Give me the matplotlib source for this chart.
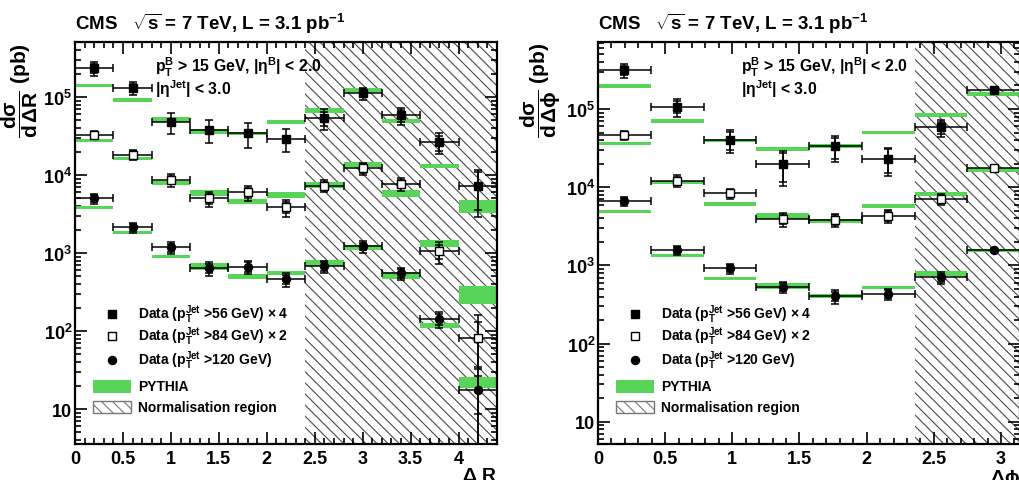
import numpy as np
import matplotlib
matplotlib.use('Agg')
from matplotlib import pyplot as plt
from matplotlib.ticker import MultipleLocator, LogLocator, FuncFormatter, NullFormatter
from matplotlib.patches import Rectangle

plt.rcParams['font.family'] = ['Liberation Sans', 'DejaVu Sans']
plt.rcParams['font.weight'] = 'bold'
plt.rcParams['axes.labelweight'] = 'bold'
plt.rcParams['mathtext.fontset'] = 'custom'
plt.rcParams['mathtext.rm'] = 'Liberation Sans:bold'
plt.rcParams['mathtext.it'] = 'Liberation Sans:bold'
plt.rcParams['mathtext.bf'] = 'Liberation Sans:bold'
plt.rcParams['mathtext.sf'] = 'Liberation Sans:bold'
plt.rcParams['mathtext.default'] = 'rm'
plt.rcParams['hatch.linewidth'] = 0.8

GREEN = '#58d558'
HATCH = '#4a4a4a'

# ---- Delta R ----
dR_edges = [0, 0.4, 0.8, 1.2, 1.6, 2.0, 2.4, 2.8, 3.2, 3.6, 4.0, 4.4]
dR_norm = (2.4, 4.4)
# data (pT>56)x4, (pT>84)x2, (pT>120)
dR_d1 = [2.35e5, 1.30e5, 4.73e4, 3.81e4, 3.43e4, 2.90e4, 5.38e4, 1.12e5, 5.80e4, 2.62e4, 7.2e3]
dR_d2 = [3.26e4, 1.82e4, 8.7e3, 5.0e3, 5.98e3, 3.86e3, 7.3e3, 1.22e4, 7.67e3, 1.05e3, 81]
dR_d3 = [5.02e3, 2.13e3, 1.18e3, 637, 667, 464, 675, 1.22e3, 550, 142, 17.5]
# relative total / stat errors
dR_tot1 = [0.20, 0.18, 0.30, 0.32, 0.35, 0.33, 0.30, 0.18, 0.25, 0.30, 0.60]
dR_tot2 = [0.12, 0.14, 0.20, 0.22, 0.22, 0.24, 0.18, 0.18, 0.18, 0.31, 0.99]
dR_tot3 = [0.15, 0.15, 0.17, 0.20, 0.20, 0.20, 0.18, 0.17, 0.17, 0.23, 0.99]
dR_st1 = [0.14, 0.12, 0.08, 0.09, 0.09, 0.09, 0.20, 0.12, 0.18, 0.22, 0.50]
dR_st2 = [0.08, 0.10, 0.13, 0.15, 0.14, 0.16, 0.12, 0.12, 0.12, 0.20, 0.60]
dR_st3 = [0.10, 0.10, 0.12, 0.14, 0.14, 0.13, 0.12, 0.11, 0.12, 0.15, 0.50]
# PYTHIA and band half width (relative)
dR_p1 = [1.40e5, 9.2e4, 5.2e4, 3.66e4, 3.38e4, 4.73e4, 6.8e4, 1.24e5, 4.92e4, 1.31e4, 4.0e3]
dR_p2 = [2.76e4, 1.62e4, 7.9e3, 5.9e3, 4.55e3, 5.58e3, 7.45e3, 1.38e4, 5.8e3, 1.32e3, 300]
dR_p3 = [3.81e3, 1.82e3, 897, 667, 502, 549, 751, 1.18e3, 512, 117, 22]
dR_pw1 = [0.05, 0.05, 0.07, 0.07, 0.05, 0.06, 0.07, 0.06, 0.06, 0.07, 0.19]
dR_pw2 = [0.05, 0.05, 0.06, 0.08, 0.08, 0.08, 0.08, 0.07, 0.10, 0.10, 0.26]
dR_pw3 = [0.04, 0.05, 0.05, 0.10, 0.07, 0.06, 0.08, 0.07, 0.10, 0.07, 0.16]

# ---- Delta phi ----
dphi_edges = [i * np.pi / 8 for i in range(9)]
dphi_norm = (6 * np.pi / 8, np.pi)
dphi_d1 = [3.14e5, 1.07e5, 4.03e4, 1.97e4, 3.32e4, 2.30e4, 5.82e4, 1.76e5]
dphi_d2 = [4.64e4, 1.21e4, 8.34e3, 3.91e3, 3.83e3, 4.30e3, 7.05e3, 1.74e4]
dphi_d3 = [6.7e3, 1.57e3, 916, 532, 402, 430, 703, 1.58e3]
dphi_tot1 = [0.20, 0.25, 0.33, 0.47, 0.36, 0.40, 0.25, 0.07]
dphi_tot2 = [0.13, 0.18, 0.15, 0.20, 0.20, 0.20, 0.17, 0.07]
dphi_tot3 = [0.13, 0.13, 0.15, 0.17, 0.20, 0.17, 0.17, 0.05]
dphi_st1 = [0.12, 0.18, 0.25, 0.40, 0.30, 0.33, 0.18, 0.04]
dphi_st2 = [0.09, 0.12, 0.10, 0.14, 0.14, 0.14, 0.12, 0.04]
dphi_st3 = [0.09, 0.09, 0.10, 0.12, 0.14, 0.12, 0.12, 0.03]
dphi_p1 = [1.98e5, 7.06e4, 3.96e4, 3.07e4, 3.39e4, 5.02e4, 8.36e4, 1.56e5]
dphi_p2 = [3.63e4, 1.15e4, 6.08e3, 4.31e3, 3.72e3, 5.78e3, 8.17e3, 1.66e4]
dphi_p3 = [4.85e3, 1.33e3, 682, 549, 408, 524, 790, 1.54e3]
dphi_pw1 = [0.05, 0.05, 0.05, 0.05, 0.05, 0.05, 0.05, 0.05]
dphi_pw2 = [0.05, 0.05, 0.05, 0.08, 0.06, 0.05, 0.06, 0.05]
dphi_pw3 = [0.04, 0.04, 0.05, 0.08, 0.05, 0.05, 0.08, 0.05]

legend_labels = [r'Data ($p_{T}^{Jet}$ >56 GeV)$\,\times$4',
                 r'Data ($p_{T}^{Jet}$ >84 GeV)$\,\times$2',
                 r'Data ($p_{T}^{Jet}$ >120 GeV)',
                 'PYTHIA', 'Normalisation region']
cut_text1 = r'$p_{T}^{B}$ > 15 GeV, $|\eta^{B}|$ < 2.0'
cut_text2 = r'$|\eta^{Jet}|$ < 3.0'
title = r'CMS   $\sqrt{s}$ = 7 TeV, L = 3.1 pb$^{-1}$'

marker_styles = [dict(marker='s', ms=5.8, mfc='black', mec='black'),
                 dict(marker='s', ms=5.8, mfc='white', mec='black', mew=1.0),
                 dict(marker='o', ms=5.8, mfc='black', mec='black')]


def ylog_fmt(v, pos):
    n = int(round(np.log10(v)))
    if n == 1:
        return '10'
    return r'$10^{%d}$' % n


def draw_panel(ax, edges, norm, datas, tots, stats, pys, pws, ylim, xlabel, ylabel, tx):
    edges = np.array(edges)
    centers = 0.5 * (edges[1:] + edges[:-1])
    halfw = 0.5 * (edges[1:] - edges[:-1])
    ax.set_yscale('log')
    ax.axvspan(norm[0], norm[1], facecolor='none', edgecolor=HATCH, hatch='\\\\\\', linewidth=0, zorder=0.5)
    for d, t, s, p, w, st in zip(datas, tots, stats, pys, pws, marker_styles):
        d = np.array(d)
        p = np.array(p)
        w = np.array(w)
        ax.bar(centers, p * 2 * w, bottom=p * (1 - w), width=2 * halfw, color=GREEN, linewidth=0, zorder=2)
        ax.errorbar(centers, d, xerr=halfw, yerr=d * np.array(t), fmt='none', ecolor='black',
                    elinewidth=1.1, capsize=3, capthick=1.1, zorder=3)
        ax.errorbar(centers, d, yerr=d * np.array(s), fmt='none', ecolor='black',
                    elinewidth=1.1, capsize=3, capthick=1.1, zorder=3)
        ax.plot(centers, d, linestyle='none', zorder=4, **st)
    ax.set_xlim(edges[0], edges[-1])
    ax.set_ylim(*ylim)
    ax.xaxis.set_major_locator(MultipleLocator(0.5))
    ax.xaxis.set_minor_locator(MultipleLocator(0.1))
    ax.xaxis.set_major_formatter(FuncFormatter(lambda v, pos: '%g' % v))
    ax.yaxis.set_major_locator(LogLocator(base=10))
    ax.yaxis.set_minor_locator(LogLocator(base=10, subs=np.arange(2, 10)))
    ax.yaxis.set_major_formatter(FuncFormatter(ylog_fmt))
    ax.yaxis.set_minor_formatter(NullFormatter())
    ax.tick_params(which='both', direction='in', top=True, right=True, width=1.2, labelsize=13)
    ax.tick_params(which='major', length=8.5)
    ax.tick_params(which='minor', length=4.5)
    ax.tick_params(axis='x', pad=4)
    ax.tick_params(axis='y', pad=2)
    for sp in ax.spines.values():
        sp.set_linewidth(1.6)
    ax.set_xlabel(xlabel, fontsize=14, loc='right')
    ax.xaxis.set_label_coords(1.0, -0.057)
    ax.set_ylabel(ylabel, fontsize=15, loc='top')
    ax.yaxis.set_label_coords(-0.083, 1.0)
    ax.text(tx, 0.940, cut_text1, transform=ax.transAxes, fontsize=11.3, va='center')
    ax.text(tx, 0.886, cut_text2, transform=ax.transAxes, fontsize=11.3, va='center')

    # legend drawn by hand
    rows = [0.323, 0.269, 0.209, 0.144, 0.092]
    for st, yy in zip(marker_styles, rows[:3]):
        ax.plot([0.088], [yy], transform=ax.transAxes, clip_on=False, linestyle='none', **st)
    ax.add_patch(Rectangle((0.042, rows[3] - 0.016), 0.09, 0.032, transform=ax.transAxes,
                           facecolor=GREEN, edgecolor='none'))
    ax.add_patch(Rectangle((0.042, rows[4] - 0.016), 0.09, 0.032, transform=ax.transAxes,
                           facecolor='white', edgecolor='#777777', hatch='\\\\\\', linewidth=1))
    for lab, yy in zip(legend_labels, rows):
        ax.text(0.149, yy, lab, transform=ax.transAxes, fontsize=10, va='center')


fig = plt.figure(figsize=(10.2, 4.81), dpi=100)
ax1 = fig.add_axes([75 / 1020, 36 / 481, 422 / 1020, 402 / 481])
ax2 = fig.add_axes([598 / 1020, 36 / 481, 422 / 1020, 402 / 481])

draw_panel(ax1, dR_edges, dR_norm, [dR_d1, dR_d2, dR_d3], [dR_tot1, dR_tot2, dR_tot3],
           [dR_st1, dR_st2, dR_st3], [dR_p1, dR_p2, dR_p3], [dR_pw1, dR_pw2, dR_pw3],
           (3.56, 5.07e5), r'$\Delta$ R', r'$\dfrac{d\sigma}{d\,\Delta R}$ (pb)', 0.19)
draw_panel(ax2, dphi_edges, dphi_norm, [dphi_d1, dphi_d2, dphi_d3], [dphi_tot1, dphi_tot2, dphi_tot3],
           [dphi_st1, dphi_st2, dphi_st3], [dphi_p1, dphi_p2, dphi_p3], [dphi_pw1, dphi_pw2, dphi_pw3],
           (5.2, 7.2e5), r'$\Delta\phi$', r'$\dfrac{d\sigma}{d\,\Delta\phi}$ (pb)', 0.34)

fig.text(75 / 1020, 1 - 30 / 481, title, fontsize=13.5, va='baseline')
fig.text(598 / 1020, 1 - 30 / 481, title, fontsize=13.5, va='baseline')

fig.savefig('out.png', dpi=100)
